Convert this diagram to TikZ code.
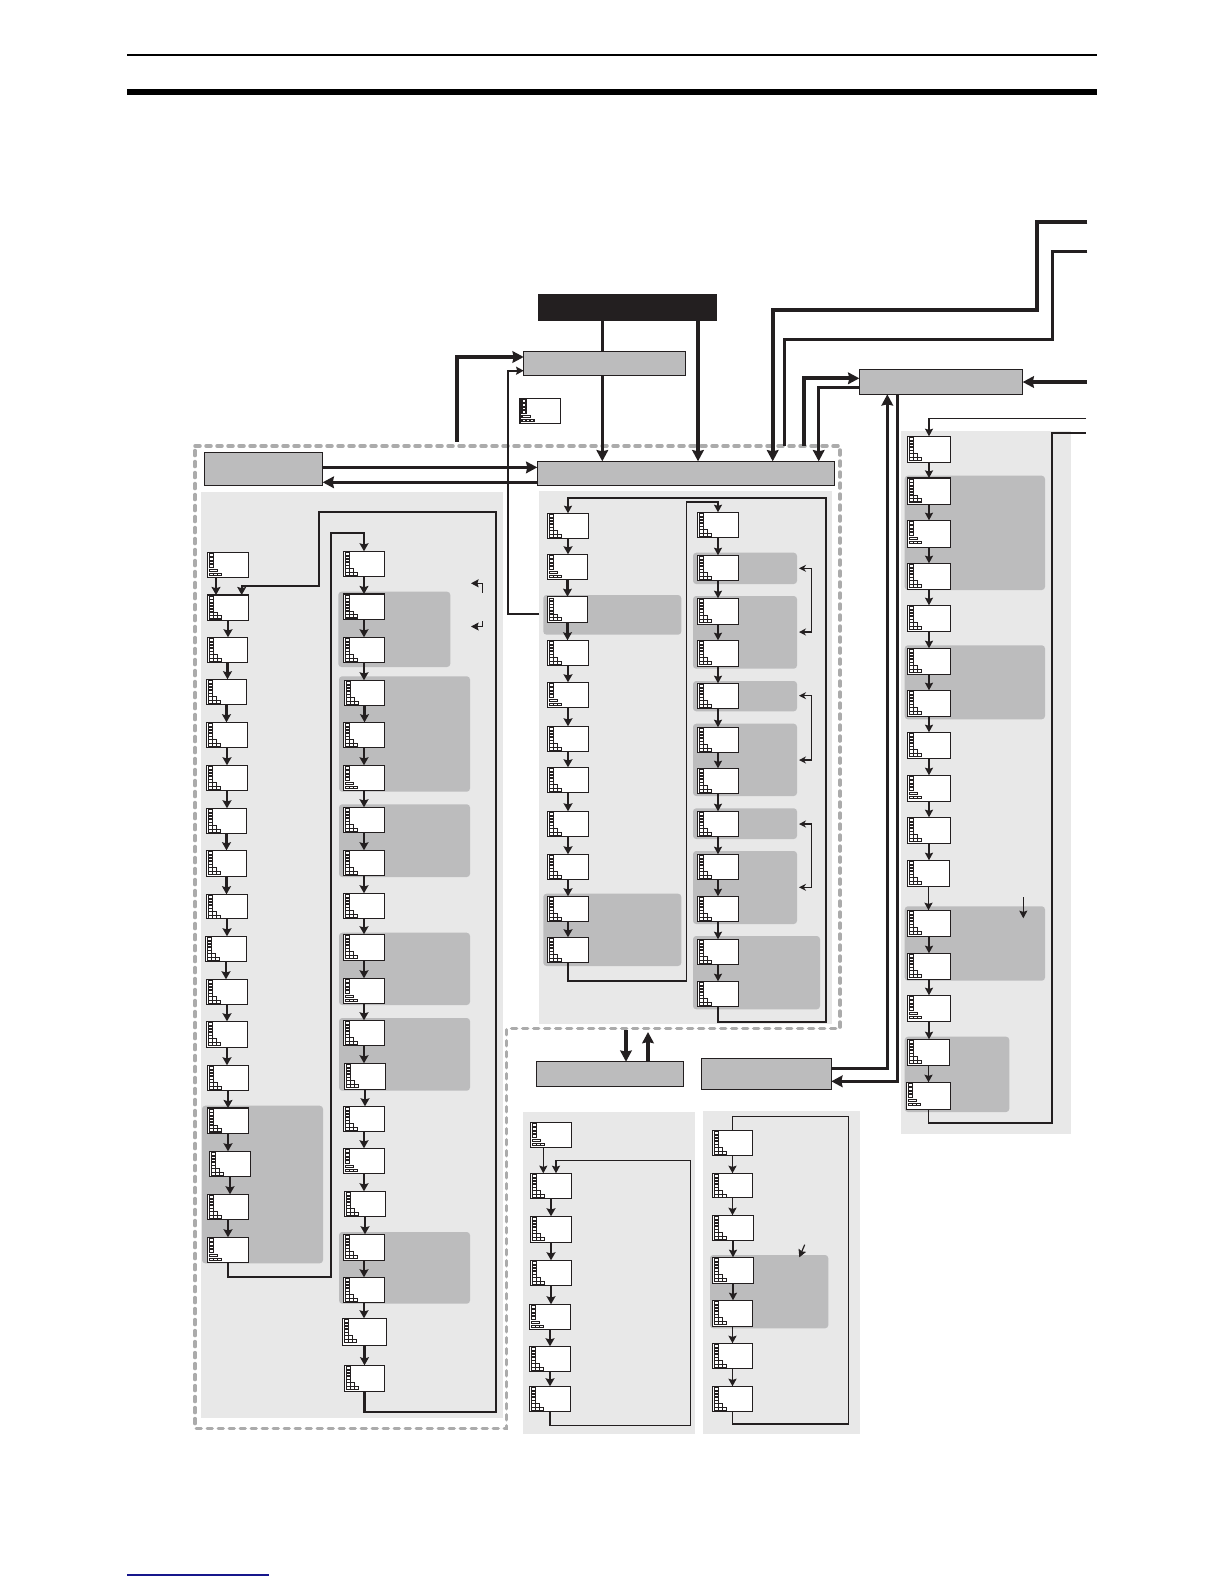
\documentclass[tikz,border=0pt]{standalone}
\usepackage{xcolor}
\usepackage{tikz}
\usetikzlibrary{arrows.meta}
\definecolor{inkblack}{HTML}{231F20}
\definecolor{panelgrey}{HTML}{BCBCBD}
\definecolor{palegrey}{HTML}{E8E8E8}
\definecolor{fencegrey}{HTML}{ABABAB}
\definecolor{footblue}{HTML}{16168C}
\tikzset{
  lcd/.style={draw=inkblack,fill=white,line width=0.6bp,inner sep=0pt,outer sep=0pt},
  headbox/.style={draw=inkblack,fill=panelgrey,line width=0.65bp,inner sep=0pt,outer sep=0pt},
  cell/.style={draw=inkblack,fill=white,line width=0.55bp},
  darkpanel/.style={fill=panelgrey,rounded corners=1.6bp},
  fence/.style={draw=fencegrey,line width=1.75bp,line cap=round,dash pattern=on 2.5bp off 3bp},
  flow/.style={draw=inkblack,line width=1.35bp,-{Stealth[length=4bp,width=4.4bp,inset=0.6bp]}},
  flowthin/.style={draw=inkblack,line width=0.8bp,-{Stealth[length=3.8bp,width=4bp,inset=0.6bp]}},
  loopline/.style={flow,line width=1.05bp},
  bus/.style={draw=inkblack,line width=1.7bp,-{Stealth[length=5.6bp,width=5.8bp,inset=0.6bp]}},
  wire/.style={draw=inkblack,line width=1bp},
  pics/lcda/.code={
    \foreach \k in {0,1,2,3,4}{\draw[cell] (2,{1.6+\k*3.2}) rectangle ++(4,2.6);}
    \foreach \k in {0,1}{\draw[cell] ({2+\k*4.2},17.6) rectangle ++(4.2,3.2);}
    \foreach \k in {0,1,2}{\draw[cell] ({2+\k*4.2},20.8) rectangle ++(4.2,3.2);}
  },
  pics/lcdb/.code={
    \foreach \k in {0,1,2,3}{\draw[cell] (2,{1.6+\k*3.6}) rectangle ++(4,2.8);}
    \draw[cell] (2,17.2) rectangle ++(8.4,2.4);
    \foreach \k in {0,1,2}{\draw[cell] ({2+\k*4},21) rectangle ++(4,2.6);}
  }
}
\newcommand{\lcdbox}[6]{%
  \node[lcd,minimum width={(#4-#2)*0.5bp},minimum height={(#5-#3)*0.5bp}] (#1)
    at ({(#2+#4)/2},{(#3+#5)/2}) {};
  \begin{scope}[shift={(#2,#3)}]
    \pic {lcd#6};
  \end{scope}
}
\newcommand{\headbox}[5]{%
  \node[headbox,minimum width={(#4-#2)*0.5bp},minimum height={(#5-#3)*0.5bp}] (#1)
    at ({(#2+#4)/2},{(#3+#5)/2}) {};
}
\begin{document}
\begin{tikzpicture}[x=0.5bp,y=-0.5bp]
  \useasboundingbox (0,0) rectangle (1224,1584);

  % Page rules.
  \fill[black] (127,53.5) rectangle (1097,55.5);
  \fill[black] (127,89) rectangle (1097,94.5);
  \fill[footblue] (127,1574.3) rectangle (269,1575.6);

  % Pale background panels.
  \foreach \xa/\ya/\xb/\yb in {201.3/492/502.7/1418,539.3/491/832.3/1024,
    901.3/430.7/1070.7/1134,523.3/1112/695/1434,703.3/1111/860/1434}{%
    \fill[palegrey] (\xa,\ya) rectangle (\xb,\yb);
  }

  % Darker groups behind the displays.
  \foreach \xa/\ya/\xb/\yb in {202/1105.7/323/1263.3,338.3/591.7/450.3/667,
    339/676.3/470/791.7,339/804.3/470/877,339/932.7/470/1005,339/1018/470/1090.7,
    339/1232/470/1303.7,543.3/595/681.3/634.7,543.3/893.7/681.3/966,
    693/552.7/797/584,693/596/797/668.7,693/681/797/711.3,693/723.7/797/796,
    693/808.3/797/839,693/851/797/924,693/936/820/1009.3,
    904.7/475.7/1045/590,904.7/645.3/1045/719.3,904.7/906.3/1045/980.7,
    904.7/1036.7/1009.3/1112,710/1255/828.3/1328.3}{%
    \path[darkpanel] (\xa,\ya) rectangle (\xb,\yb);
  }

  % Dashed enclosure.
  \draw[fence] (195,446) -- (840,446) -- (840,1028.7) -- (506.7,1028.7)
    -- (506.7,1428.3) -- (195,1428.3) -- cycle;

  % Header blocks.
  \node[headbox,fill=inkblack,minimum width=88.85bp,minimum height=12.5bp] (topbar) at (627.2,307.5) {};
  \headbox{setbox}{523.7}{351.3}{685.7}{375.3}
  \headbox{mainbox}{537.3}{461.3}{834.3}{485.3}
  \headbox{leftbox}{204.7}{452.7}{322.7}{485.3}
  \headbox{rightbox}{859.3}{369.3}{1022.7}{394.3}
  \headbox{lowbox}{701.3}{1058.7}{831.3}{1089.3}
  \headbox{midbox}{536.3}{1061.7}{683.7}{1086.3}
  \lcdbox{single}{520}{398.3}{560.7}{423.7}{b}

  % Displays, one list per column.
  \foreach \nm/\xa/\ya/\xb/\yb/\kd in {
    A0/207.3/552.3/248.7/577.7/b,A1/207.3/595/248.7/620.7/a,A2/207.3/637.3/247.7/662.7/a,
    A3/206.3/679.3/246.7/704.7/a,A4/206.3/722.3/247.7/747.7/a,A5/206.3/765.3/247.7/790.7/a,
    A6/206.3/808.3/246.7/833.7/a,A7/206.3/850.3/246.7/876.3/a,A8/206.3/894.3/247.7/918.7/a,
    A9/205.3/936.3/246.7/961.7/a,A10/206.3/979.3/247.7/1004.7/a,A11/206.3/1021.3/247.7/1047.3/a,
    A12/207.3/1065.3/248.7/1090.7/a,A13/207.3/1108/248.7/1133.7/a,A14/209.3/1151.3/250.7/1176.7/a,
    A15/207.3/1194.3/248.7/1219.7/a,A16/207.3/1237.3/248.7/1262.7/b}{%
    \lcdbox{\nm}{\xa}{\ya}{\xb}{\yb}{\kd}
  }
  \foreach \nm/\xa/\ya/\xb/\yb/\kd in {
    B0/343.3/551.3/384.7/576.7/a,B1/343.3/594/384.7/619.7/a,B2/343.3/637.3/384.7/662.7/a,
    B3/344.3/680.3/384.7/705.7/a,B4/343.3/722.3/384.7/747.7/a,B5/343.3/765.3/384.7/790.7/b,
    B6/343.3/807.3/384.7/832.7/a,B7/343.3/850.3/384.7/875.7/a,B8/343.3/893.3/384.7/918.7/a,
    B9/343.3/934.3/384.7/960.3/a,B10/343.3/978.3/384.7/1003.7/b,B11/343.3/1020.3/384.7/1045.7/a,
    B12/344.3/1063.3/385.7/1089.3/a,B13/343.3/1106.3/384.7/1131.7/a,B14/343.3/1148.3/384.7/1173.7/b,
    B15/344.3/1191.3/385.7/1216.7/a,B16/343.3/1234.3/384.7/1260.7/a,B17/343.3/1277.3/384.7/1302.7/a,
    B18/342.3/1318.3/386.7/1345.7/a,B19/344.3/1365.3/384.7/1391.7/a}{%
    \lcdbox{\nm}{\xa}{\ya}{\xb}{\yb}{\kd}
  }
  \foreach \nm/\xa/\ya/\xb/\yb/\kd in {
    C0/547.3/513.3/588.7/538.7/a,C1/547.3/554.3/587.7/579.7/b,C2/547.3/596.7/587.7/622.7/a,
    C3/547.3/640.3/588.7/665.7/a,C4/547.3/682.3/588.7/707.7/b,C5/547.3/726.3/588.7/751.7/a,
    C6/547.3/767.3/588.7/792.7/a,C7/547.3/811.3/588.7/836.7/a,C8/547.3/854.3/588.7/879.7/a,
    C9/547.3/896.3/588.7/921.7/a,C10/547.3/937.3/588.7/962.7/a}{%
    \lcdbox{\nm}{\xa}{\ya}{\xb}{\yb}{\kd}
  }
  \foreach \nm/\xa/\ya/\xb/\yb/\kd in {
    D0/697.3/512.3/738.7/537.7/a,D1/697.3/555.3/738.7/580.7/a,D2/697.3/598.3/738.7/624.3/a,
    D3/697.3/640.3/738.7/666.3/a,D4/697.3/683.3/738.7/708.7/a,D5/697.3/727.3/738.7/752.7/a,
    D6/697.3/768.3/738.7/793.7/a,D7/697.3/811.3/738.7/836.7/a,D8/697.3/854.3/738.7/879.7/a,
    D9/697.3/896.3/738.7/921.7/a,D10/697.3/939.3/738.7/964.7/a,D11/697.3/981.3/738.7/1006.7/a}{%
    \lcdbox{\nm}{\xa}{\ya}{\xb}{\yb}{\kd}
  }
  \foreach \nm/\xa/\ya/\xb/\yb/\kd in {
    E0/907.3/436.3/950.7/462.7/a,E1/907.3/478/950.7/504.7/a,E2/907.3/520.3/950.7/547.7/b,
    E3/907.3/563.3/950.7/589.3/a,E4/907.3/605.3/950.7/631.7/a,E5/907.3/648.3/950.7/674.3/a,
    E6/907.3/690.3/950.7/716.7/a,E7/907.3/732.3/950.7/758.7/a,E8/907.3/775.3/950.7/801.3/b,
    E9/907.3/817.3/950.7/843.3/a,E10/907.3/860.3/949.7/886.7/a,E11/907.3/910.3/950.7/936.7/a,
    E12/907.3/953.3/950.7/979.7/a,E13/907.3/995.3/950.7/1021.7/b,E14/907.3/1039.3/949.7/1065.7/a,
    E15/906.3/1082.3/950.7/1109.7/b}{%
    \lcdbox{\nm}{\xa}{\ya}{\xb}{\yb}{\kd}
  }
  \foreach \nm/\xa/\ya/\xb/\yb/\kd in {
    F0/530.3/1122.3/571.7/1147.7/b,F1/530.3/1173.3/571.7/1198.7/a,F2/530.3/1216.3/571.7/1242.3/a,
    F3/530.3/1260.3/571.7/1285.7/a,F4/529.3/1304.3/570.7/1329.7/b,F5/529.3/1346.3/570.7/1371.7/a,
    F6/529.3/1386.3/570.7/1411.7/a,
    G0/712.3/1130.3/752.7/1155.7/a,G1/712.3/1173.3/752.7/1197.7/a,G2/712.3/1215.3/753.7/1240.7/a,
    G3/712.3/1257.3/753.7/1283.3/a,G4/712.3/1300.3/752.7/1326.7/a,G5/712.3/1343.3/752.7/1368.7/a,
    G6/712.3/1386.3/752.7/1411.7/a}{%
    \lcdbox{\nm}{\xa}{\ya}{\xb}{\yb}{\kd}
  }

  % Steps inside the columns.
  \foreach \a/\b in {A1/A2,A2/A3,A3/A4,A4/A5,A5/A6,A6/A7,A7/A8,A8/A9,A9/A10,A10/A11,A11/A12,
    A12/A13,A13/A14,A14/A15,A15/A16,B0/B1,B1/B2,B2/B3,B3/B4,B4/B5,B5/B6,B6/B7,B7/B8,B8/B9,
    B9/B10,B10/B11,B11/B12,B12/B13,B13/B14,B14/B15,B15/B16,B16/B17,B17/B18,B18/B19,
    C0/C1,C1/C2,C2/C3,C3/C4,C4/C5,C5/C6,C6/C7,C7/C8,C8/C9,C9/C10,
    F1/F2,F2/F3,F3/F4,F4/F5,F5/F6}{%
    \draw[flow] (\a.south) -- (\a.south |- \b.north);
  }
  \foreach \a/\b in {D0/D1,D1/D2,D2/D3,D3/D4,D4/D5,D5/D6,D6/D7,D7/D8,D8/D9,D9/D10,D10/D11,
    E0/E1,E1/E2,E2/E3,E3/E4,E4/E5,E5/E6,E6/E7,E7/E8,E8/E9,E9/E10,E10/E11,E11/E12,E12/E13,
    E13/E14,E14/E15,G0/G1,G1/G2,G2/G3,G3/G4,G4/G5,G5/G6}{%
    \draw[flowthin] (\a.south) -- (\a.south |- \b.north);
  }
  \draw[flow] ([xshift=-6bp]A0.south) -- ([xshift=-6bp]A0.south |- A1.north);
  \draw[flowthin] ([xshift=-3.85bp]F0.south) -- ([xshift=-3.85bp]F0.south |- F1.north);

  % Return loops.
  \draw[loopline] (A16.south) |- (331,1276.7) -- (331,533) -| (B0.north);
  \draw[loopline] (B19.south) |- (496,1411.7) -- (496,511.7) -- (319,511.7) -- (319,585.7)
    -| ([xshift=6.85bp]A1.north);
  \draw[flowthin] (C10.south) |- (686.3,980.7) -- (686.3,501.7) -| (D0.north);
  \draw[flowthin,line width=0.9bp] (D11.south) |- (826,1021.7) -- (826,498) -| (C0.north);
  \draw[flowthin,line width=0.65bp] (F6.south) |- (690.3,1425.3) -- (690.3,1160.3) -| ([xshift=2.5bp]F1.north);
  \draw[wire,line width=0.65bp] (G6.south) |- (848.7,1424) -- (848.7,1116.7) -| (G0.north);

  % Block connections.
  \draw[wire,line width=1.6bp] (602.3,320) -- (602.3,351.3);
  \draw[bus,line width=1.6bp] (602.3,375.3) -- (602.3,461.3);
  \draw[bus,line width=2bp] (698,320) -- (698,461.3);
  \draw[bus,line width=1.35bp] (322.7,467.4) -- (537.3,467.4);
  \draw[bus,line width=1.35bp] (537.3,482.3) -- (322.7,482.3);
  \coordinate (busA) at (1087.3,221.7);
  \coordinate (busB) at (1087.3,251.7);
  \coordinate (busC) at (1086.7,382);
  \coordinate (busD) at (1086,418.3);
  \coordinate (busE) at (1086,433.3);
  \draw[bus,line width=1.9bp] (busA) -- (1036.7,221.7) -- (1036.7,309.7) -- (772.7,309.7) -- (772.7,461.3);
  \draw[wire,line width=1.5bp] (busB) -- (1052,251.7) -- (1052,339.7) -- (784.7,339.7) -- (784.7,445.7);
  \draw[bus,line width=1.9bp] (804,445.7) -- (804,378.3) -- (859.3,378.3);
  \draw[bus,line width=1.5bp] (859.3,387.7) -- (818.7,387.7) -- (818.7,461.3);
  \draw[bus,line width=1.9bp] (busC) -- (rightbox.east |- busC);
  \draw[flowthin] (busD) -| (E0.north);
  \draw[wire,line width=0.85bp] (E15.south) |- (1051.7,1123.3) -- (1051.7,433.3) -- (busE);
  \draw[bus,line width=1.5bp] (831.3,1068) -- (887.3,1068) -- (887.3,394.3);
  \draw[bus,line width=1.5bp] (897,394.3) -- (897,1081.3) -- (831.3,1081.3);
  \draw[bus,line width=2bp] (626,1030) -- (626,1061.7);
  \draw[bus,line width=2bp] (648,1061.7) -- (648,1032);
  \draw[bus,line width=1.9bp] (457.3,441.7) -- (457.3,357) -- (523.7,357);
  \draw[flowthin] (539.3,614) -- (507.7,614) -- (507.7,370.7) -- (523.7,370.7);

  % Small pointers in the margins of the groups.
  \draw[flowthin,line width=0.6bp] (482.7,592.7) -- (482.7,583.3) -- (471,583.3);
  \draw[flowthin,line width=0.6bp] (482.7,621.3) -- (482.7,626.5) -- (471,626.5);
  \foreach \ya/\yb in {568.3/632,695.7/760,824/887.3}{%
    \draw[draw=inkblack,line width=0.6bp,{Stealth[length=3.5bp,width=3.5bp]}-{Stealth[length=3.5bp,width=3.5bp]}]
      (799,\ya) -- (811.5,\ya) -- (811.5,\yb) -- (799,\yb);
  }
  \draw[flowthin,line width=0.6bp] (1023.3,897.3) -- (1023.3,918.3);
  \draw[flowthin,line width=0.6bp] (804.7,1244.7) -- (799.3,1257.3);
\end{tikzpicture}
\end{document}
